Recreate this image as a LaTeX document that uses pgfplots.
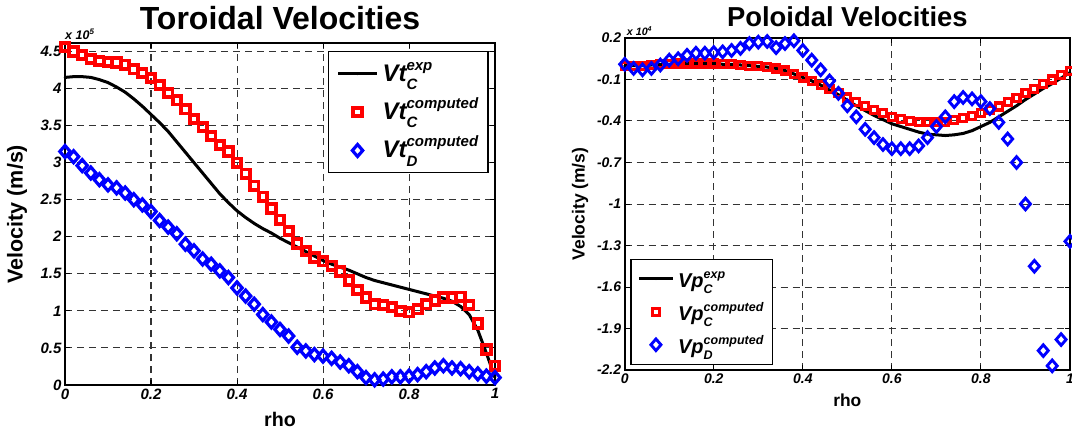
\documentclass[border=0pt]{standalone}
\usepackage{fontspec}
\setmainfont{Liberation Sans}
\usepackage{pgfplots}
\pgfplotsset{compat=1.18}
\newcommand{\fs}[1]{\fontsize{#1}{#1}\selectfont}
\newcommand{\legtxt}[7]{{\fs{#4}\bfseries\itshape #1}\rlap{\raisebox{-#7}{\fs{#5}\bfseries\itshape #3}}\raisebox{#6}{\fs{#5}\bfseries\itshape #2}}
\pgfplotsset{
  every axis title shift=0pt,
  matlab/.style={
    scale only axis, clip=false,
    xmin=0, xmax=1,
    grid=major,
    major grid style={line width=1pt, black!80, dash pattern=on 7pt off 5pt},
    axis line style={line width=2pt},
    tick style={line width=1pt, black},
    major tick length=5pt, tick align=inside,
    xtick={0,0.2,0.4,0.6,0.8,1}, xticklabels={0,0.2,0.4,0.6,0.8,1},
    legend cell align=left,
  }
}
\begin{document}
\begin{tikzpicture}
\path[use as bounding box] (0,0) rectangle (1072pt,432pt);
% ---------------- Left: Toroidal ----------------
\begin{axis}[matlab, name=L,
  at={(65pt,47pt)}, anchor=south west,
  width=430pt, height=341.7pt,
  ymin=0, ymax=4.61,
  ytick={0,0.5,1,1.5,2,2.5,3,3.5,4,4.5},
  yticklabels={0,0.5,1,1.5,2,2.5,3,3.5,4,4.5},
  ticklabel style={font=\fs{15}\bfseries\itshape},
  title={Toroidal Velocities},
  title style={at={(axis description cs:0.5,1.0416)}, anchor=base, yshift=0pt, font=\fs{32}\bfseries},
  xlabel={rho},
  xlabel style={at={(axis description cs:0.5,-0.12)}, anchor=base, font=\fs{19.7}\bfseries},
  ylabel={Velocity (m/s)},
  ylabel style={at={(axis description cs:-0.1116,0.5)}, anchor=center, font=\fs{21.5}\bfseries},
  legend style={at={(axis description cs:0.986,0.9775)}, anchor=north east, draw=black, line width=1.5pt, fill=white,
    inner xsep=8pt, inner ysep=4pt, row sep=2pt, column sep=2pt,
    nodes={inner sep=2pt, text height=23.45pt, text depth=8.85pt}},
  legend image code/.code={\draw[mark repeat=2,mark phase=2,#1] plot coordinates {(0pt,0pt) (19.5pt,0pt) (39pt,0pt)};},
]
\addplot[black, line width=3pt, mark=*, mark size=1.1pt, mark options={line width=0.3pt}] coordinates {
(0,4.15)(0.02,4.16)(0.04,4.16)(0.06,4.15)(0.08,4.12)(0.10,4.08)(0.12,4.02)(0.14,3.95)(0.16,3.86)(0.18,3.76)
(0.20,3.65)(0.22,3.54)(0.24,3.42)(0.26,3.28)(0.28,3.14)(0.30,3.00)(0.32,2.86)(0.34,2.72)(0.36,2.58)(0.38,2.46)
(0.40,2.35)(0.42,2.26)(0.44,2.18)(0.46,2.11)(0.48,2.05)(0.50,1.98)(0.52,1.92)(0.54,1.86)(0.56,1.80)(0.58,1.74)
(0.60,1.68)(0.62,1.63)(0.64,1.59)(0.66,1.55)(0.68,1.50)(0.70,1.45)(0.72,1.41)(0.74,1.38)(0.76,1.35)(0.78,1.32)
(0.80,1.29)(0.82,1.26)(0.84,1.23)(0.86,1.20)(0.88,1.17)(0.90,1.13)(0.92,1.06)(0.94,0.95)(0.96,0.74)(0.98,0.43)(1.00,0.10)};
\addlegendentry{\legtxt{Vt}{exp}{C}{24}{15}{11pt}{8.3pt}}
\addplot[red, only marks, mark=square, mark size=4.2pt, line width=3.8pt] coordinates {
(0,4.56)(0.02,4.50)(0.04,4.45)(0.06,4.40)(0.08,4.37)(0.10,4.36)(0.12,4.35)(0.14,4.32)(0.16,4.26)(0.18,4.21)
(0.20,4.14)(0.22,4.05)(0.24,3.94)(0.26,3.84)(0.28,3.72)(0.30,3.59)(0.32,3.48)(0.34,3.36)(0.36,3.24)(0.38,3.15)
(0.40,3.00)(0.42,2.85)(0.44,2.69)(0.46,2.54)(0.48,2.38)(0.50,2.23)(0.52,2.08)(0.54,1.91)(0.56,1.81)(0.58,1.72)
(0.60,1.67)(0.62,1.61)(0.64,1.53)(0.66,1.41)(0.68,1.28)(0.70,1.18)(0.72,1.09)(0.74,1.08)(0.76,1.05)(0.78,1.00)
(0.80,0.98)(0.82,1.02)(0.84,1.09)(0.86,1.14)(0.88,1.18)(0.90,1.18)(0.92,1.19)(0.94,1.08)(0.96,0.83)(0.98,0.48)(1.00,0.26)};
\addlegendentry{\legtxt{Vt}{computed}{C}{24}{15}{11pt}{8.3pt}}
\addplot[blue, only marks, mark=diamond, mark size=6pt, line width=3.2pt, mark options={xscale=1.15}] coordinates {
(0,3.15)(0.02,3.08)(0.04,2.96)(0.06,2.86)(0.08,2.77)(0.10,2.70)(0.12,2.66)(0.14,2.59)(0.16,2.50)(0.18,2.43)
(0.20,2.34)(0.22,2.22)(0.24,2.13)(0.26,2.04)(0.28,1.90)(0.30,1.81)(0.32,1.70)(0.34,1.63)(0.36,1.54)(0.38,1.45)
(0.40,1.31)(0.42,1.20)(0.44,1.09)(0.46,0.95)(0.48,0.85)(0.50,0.75)(0.52,0.66)(0.54,0.51)(0.56,0.46)(0.58,0.41)
(0.60,0.39)(0.62,0.36)(0.64,0.31)(0.66,0.26)(0.68,0.18)(0.70,0.10)(0.72,0.07)(0.74,0.08)(0.76,0.11)(0.78,0.11)
(0.80,0.12)(0.82,0.14)(0.84,0.18)(0.86,0.23)(0.88,0.26)(0.90,0.23)(0.92,0.22)(0.94,0.18)(0.96,0.15)(0.98,0.12)(1.00,0.10)};
\addlegendentry{\legtxt{Vt}{computed}{D}{24}{15}{11pt}{8.3pt}}
\end{axis}
\node[anchor=base west, inner sep=0pt, font=\fs{12.5}\bfseries\itshape] at ([yshift=4.3pt]L.north west) {x 10\raisebox{5pt}{\fs{8}5}};
% ---------------- Right: Poloidal ----------------
\begin{axis}[matlab, name=R,
  at={(624.7pt,62pt)}, anchor=south west,
  width=445.3pt, height=332pt,
  ymin=-2.2, ymax=0.2,
  ytick={-2.2,-1.9,-1.6,-1.3,-1,-0.7,-0.4,-0.1,0.2},
  yticklabels={-2.2,-1.9,-1.6,-1.3,-1,-0.7,-0.4,-0.1,0.2},
  ticklabel style={font=\fs{14}\bfseries\itshape},
  title={Poloidal Velocities},
  title style={at={(axis description cs:0.5,1.035)}, anchor=base, yshift=0pt, font=\fs{27.4}\bfseries},
  xlabel={rho},
  xlabel style={at={(axis description cs:0.5,-0.111)}, anchor=base, font=\fs{17.4}\bfseries},
  ylabel={Velocity (m/s)},
  ylabel style={at={(axis description cs:-0.1004,0.5)}, anchor=center, font=\fs{17.5}\bfseries},
  legend style={at={(axis description cs:0.0119,0.015)}, anchor=south west, draw=black, line width=1.5pt, fill=white,
    inner xsep=7pt, inner ysep=4pt, row sep=2pt, column sep=2pt,
    nodes={inner sep=2pt, text height=21.8pt, text depth=5.2pt}},
  legend image code/.code={\draw[mark repeat=2,mark phase=2,#1] plot coordinates {(0pt,0pt) (16.7pt,0pt) (33.4pt,0pt)};},
]
\addplot[black, line width=3pt, mark=*, mark size=1.1pt, mark options={line width=0.3pt}] coordinates {
(0,0.0)(0.02,0.0)(0.04,0.0)(0.06,0.005)(0.08,0.01)(0.10,0.01)(0.12,0.015)(0.14,0.015)(0.16,0.015)(0.18,0.015)
(0.20,0.015)(0.22,0.01)(0.24,0.01)(0.26,0.005)(0.28,0.0)(0.30,-0.005)(0.32,-0.01)(0.34,-0.02)(0.36,-0.035)(0.38,-0.06)
(0.40,-0.085)(0.42,-0.11)(0.44,-0.14)(0.46,-0.175)(0.48,-0.21)(0.50,-0.25)(0.52,-0.29)(0.54,-0.325)(0.56,-0.36)(0.58,-0.39)
(0.60,-0.42)(0.62,-0.44)(0.64,-0.46)(0.66,-0.48)(0.68,-0.495)(0.70,-0.50)(0.72,-0.505)(0.74,-0.50)(0.76,-0.49)(0.78,-0.47)
(0.80,-0.44)(0.82,-0.41)(0.84,-0.37)(0.86,-0.33)(0.88,-0.29)(0.90,-0.245)(0.92,-0.205)(0.94,-0.165)(0.96,-0.13)(0.98,-0.09)(1.00,-0.05)};
\addlegendentry{\legtxt{Vp}{exp}{C}{20}{12.5}{8.3pt}{6.7pt}}
\addplot[red, only marks, mark=square, mark size=3.5pt, line width=3.2pt] coordinates {
(0,0.0)(0.02,0.0)(0.04,0.0)(0.06,0.005)(0.08,0.01)(0.10,0.01)(0.12,0.015)(0.14,0.015)(0.16,0.015)(0.18,0.015)
(0.20,0.015)(0.22,0.01)(0.24,0.01)(0.26,0.005)(0.28,0.0)(0.30,-0.005)(0.32,-0.01)(0.34,-0.02)(0.36,-0.035)(0.38,-0.06)
(0.40,-0.085)(0.42,-0.11)(0.44,-0.14)(0.46,-0.17)(0.48,-0.20)(0.50,-0.23)(0.52,-0.26)(0.54,-0.29)(0.56,-0.32)(0.58,-0.345)
(0.60,-0.37)(0.62,-0.385)(0.64,-0.40)(0.66,-0.405)(0.68,-0.41)(0.70,-0.41)(0.72,-0.405)(0.74,-0.395)(0.76,-0.38)(0.78,-0.365)
(0.80,-0.345)(0.82,-0.32)(0.84,-0.295)(0.86,-0.265)(0.88,-0.235)(0.90,-0.20)(0.92,-0.17)(0.94,-0.135)(0.96,-0.10)(0.98,-0.07)(1.00,-0.04)};
\addlegendentry{\legtxt{Vp}{computed}{C}{20}{12.5}{8.3pt}{6.7pt}}
\addplot[blue, only marks, mark=diamond, mark size=5.8pt, line width=2.9pt, mark options={xscale=1.15}] coordinates {
(0,0.01)(0.02,-0.02)(0.04,-0.03)(0.06,-0.02)(0.08,0.005)(0.10,0.04)(0.12,0.05)(0.14,0.075)(0.16,0.09)(0.18,0.09)
(0.20,0.095)(0.22,0.10)(0.24,0.11)(0.26,0.125)(0.28,0.16)(0.30,0.17)(0.32,0.175)(0.34,0.13)(0.36,0.16)(0.38,0.18)
(0.40,0.11)(0.42,0.04)(0.44,-0.03)(0.46,-0.11)(0.48,-0.20)(0.50,-0.29)(0.52,-0.37)(0.54,-0.46)(0.56,-0.52)(0.58,-0.57)
(0.60,-0.60)(0.62,-0.60)(0.64,-0.60)(0.66,-0.58)(0.68,-0.52)(0.70,-0.44)(0.72,-0.37)(0.74,-0.26)(0.76,-0.23)(0.78,-0.24)
(0.80,-0.26)(0.82,-0.31)(0.84,-0.41)(0.86,-0.53)(0.88,-0.70)(0.90,-1.00)(0.92,-1.45)(0.94,-2.06)(0.96,-2.17)(0.98,-1.98)(1.00,-1.27)};
\addlegendentry{\legtxt{Vp}{computed}{D}{20}{12.5}{8.3pt}{6.7pt}}
\end{axis}
\node[anchor=base west, inner sep=0pt, font=\fs{10.7}\bfseries\itshape] at ([xshift=2pt,yshift=2.3pt]R.north west) {x 10\raisebox{4.5pt}{\fs{7}4}};
\end{tikzpicture}
\end{document}
